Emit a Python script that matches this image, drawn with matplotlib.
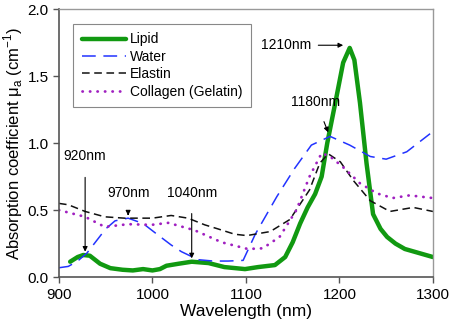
import matplotlib
matplotlib.use("Agg")
import matplotlib.pyplot as plt

plt.rcParams['font.family'] = ['Liberation Sans', 'DejaVu Sans']

# spectra (wavelength nm, mu_a cm^-1)
lipid_x = [912, 920, 926, 933, 944, 955, 968, 979, 990, 1000, 1008, 1015, 1028, 1042, 1060,
           1077, 1099, 1113, 1131, 1142, 1150, 1158, 1166, 1174, 1181, 1187, 1197, 1204,
           1211, 1216, 1222, 1229, 1236, 1244, 1251, 1260, 1270, 1285, 1300]
lipid_y = [0.115, 0.15, 0.165, 0.16, 0.10, 0.067, 0.055, 0.05, 0.06, 0.05, 0.06, 0.085, 0.10,
           0.115, 0.105, 0.075, 0.06, 0.075, 0.09, 0.15, 0.26, 0.40, 0.52, 0.62, 0.75,
           1.00, 1.35, 1.60, 1.71, 1.62, 1.30, 0.85, 0.47, 0.36, 0.30, 0.25, 0.21, 0.18, 0.15]

water_x = [900, 910, 920, 930, 940, 950, 960, 974, 990, 1003, 1020, 1031, 1049, 1065, 1081,
           1097, 1110, 1133, 1152, 1170, 1190, 1211, 1233, 1250, 1272, 1297]
water_y = [0.07, 0.08, 0.12, 0.18, 0.27, 0.36, 0.42, 0.44, 0.40, 0.33, 0.24, 0.19, 0.13,
           0.12, 0.12, 0.125, 0.32, 0.60, 0.81, 0.985, 1.05, 0.985, 0.90, 0.88, 0.935, 1.07]

elastin_x = [900, 910, 928, 949, 970, 1000, 1020, 1038, 1056, 1070, 1088, 1101, 1126, 1147,
             1168, 1179, 1188, 1201, 1215, 1233, 1254, 1279, 1300]
elastin_y = [0.55, 0.54, 0.49, 0.45, 0.44, 0.44, 0.46, 0.44, 0.39, 0.36, 0.32, 0.31, 0.34,
             0.43, 0.65, 0.85, 0.92, 0.86, 0.72, 0.57, 0.49, 0.52, 0.49]

collagen_x = [900, 928, 949, 974, 999, 1017, 1045, 1074, 1102, 1118, 1136, 1154, 1168, 1181,
              1190, 1204, 1222, 1240, 1257, 1275, 1300]
collagen_y = [0.50, 0.45, 0.375, 0.395, 0.39, 0.405, 0.35, 0.26, 0.21, 0.215, 0.30, 0.50,
              0.75, 0.925, 0.90, 0.82, 0.70, 0.625, 0.59, 0.61, 0.59]

# annotation labels: (text, text position, arrow tip)
notes = [
    ("920nm", (928, 0.90), (928, 0.19)),
    ("970nm", (974, 0.63), (974, 0.46)),
    ("1040nm", (1042, 0.63), (1042, 0.14)),
    ("1210nm", (1170, 1.73), (1204, 1.73)),
    ("1180nm", (1175, 1.31), (1188, 1.08)),
]

fig = plt.figure(figsize=(4.5, 3.23), dpi=100)
ax = fig.add_axes([0.131, 0.142, 0.831, 0.830])

ax.plot(lipid_x, lipid_y, color='#119911', lw=3.2, label='Lipid',
        solid_capstyle='round', solid_joinstyle='round')
ax.plot(water_x, water_y, color='#2233ff', lw=1.1, dashes=(9, 5), label='Water')
ax.plot(elastin_x, elastin_y, color='#111111', lw=1.1, dashes=(5, 3), label='Elastin')
ax.plot(collagen_x, collagen_y, color='#a020c0', lw=2.0, dashes=(0.1, 2.6),
        dash_capstyle='round', label='Collagen (Gelatin)')

for txt, tpos, tip in notes:
    ha = 'right' if txt == '1210nm' else 'center'
    ax.annotate(txt, xy=tip, xytext=tpos, fontsize=10, ha=ha, va='center',
                arrowprops=dict(arrowstyle='-|>', color='black', lw=0.8,
                                mutation_scale=7, shrinkA=8 if ha == 'center' else 3,
                                shrinkB=0))

ax.set_xlim(900, 1300)
ax.set_ylim(0, 2.0)
ax.set_xticks([900, 1000, 1100, 1200, 1300])
ax.set_yticks([0.0, 0.5, 1.0, 1.5, 2.0])
ax.set_yticklabels(['0.0', '0.5', '1.0', '1.5', '2.0'])
ax.tick_params(labelsize=11, direction='out', length=4, width=1, color='#555555')
ax.set_xlabel('Wavelength (nm)', fontsize=12.5, labelpad=2)
ax.set_ylabel('Absorption coefficient μ$_\\mathregular{a}$ (cm$^\\mathregular{-1}$)',
              fontsize=12, labelpad=2)

for s in ['left', 'bottom']:
    ax.spines[s].set_color('#555555')
    ax.spines[s].set_linewidth(1.2)
for s in ['top', 'right']:
    ax.spines[s].set_color('#999999')
    ax.spines[s].set_linewidth(1.0)

leg = ax.legend(loc='upper left', bbox_to_anchor=(0.02, 0.97), fontsize=10,
                handlelength=3.2, handletextpad=0.3, labelspacing=0.25,
                fancybox=False, edgecolor='#888888', framealpha=1, borderpad=0.6)
leg.get_frame().set_linewidth(0.8)

fig.savefig('out.png', dpi=100)
